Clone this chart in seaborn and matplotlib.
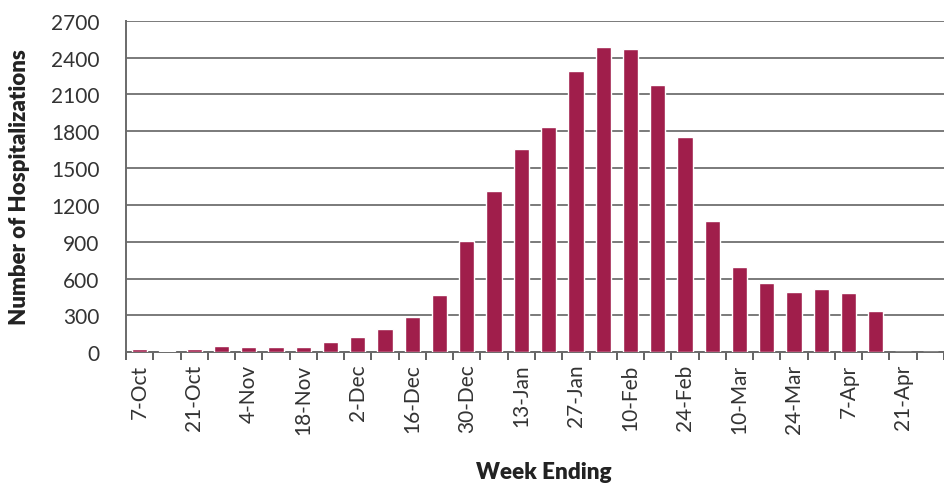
import matplotlib
matplotlib.use("Agg")
import matplotlib.pyplot as plt
import seaborn as sns
import pandas as pd
import numpy as np

# Weekly hospitalizations, week ending
weeks = ["7-Oct", "14-Oct", "21-Oct", "28-Oct", "4-Nov", "11-Nov", "18-Nov",
         "25-Nov", "2-Dec", "9-Dec", "16-Dec", "23-Dec", "30-Dec", "6-Jan",
         "13-Jan", "20-Jan", "27-Jan", "3-Feb", "10-Feb", "17-Feb", "24-Feb",
         "3-Mar", "10-Mar", "17-Mar", "24-Mar", "31-Mar", "7-Apr", "14-Apr",
         "21-Apr", "28-Apr"]
hospitalizations = [25, 12, 25, 55, 40, 40, 40, 80, 127, 190, 290, 469,
                    904, 1310, 1655, 1837, 2293, 2483, 2469, 2176, 1750,
                    1066, 697, 564, 493, 515, 480, 334, 0, 0]
yticks = [0, 300, 600, 900, 1200, 1500, 1800, 2100, 2400, 2700]

df = pd.DataFrame({"week": weeks, "count": hospitalizations})

sns.set_theme(style="white")
plt.rcParams["font.family"] = ["Lato", "DejaVu Sans"]

fig = plt.figure(figsize=(9.44, 4.85), dpi=100)
ax = fig.add_axes([0.1335, 0.2715, 0.8665, 0.6838])

bar_color = "#A01E4B"
sns.barplot(data=df, x="week", y="count", color=bar_color, width=0.56,
            saturation=1, ax=ax, zorder=3)

# y axis
ax.set_ylim(0, 2700)
ax.set_yticks(yticks)
ax.set_yticklabels([str(v) for v in yticks], fontsize=15, color="#333333")
ax.yaxis.grid(True, color="#7a7a7a", linewidth=1.4, zorder=0)
ax.tick_params(axis="y", length=0, pad=19)

# x axis: labels every other week, tick marks at week boundaries
n = len(weeks)
ax.set_xlim(-0.5, 28.95)
ax.set_xticks(np.arange(0, n, 2))
ax.set_xticklabels(weeks[::2], rotation=90, fontsize=15, color="#333333")
ax.set_xticks(np.arange(-0.5, n, 1), minor=True)
ax.tick_params(axis="x", which="major", length=0, pad=8)
ax.tick_params(axis="x", which="minor", length=6, width=1.3,
               color="#555555", direction="out", bottom=True)

for side in ["top", "right"]:
    ax.spines[side].set_visible(False)
for side in ["left", "bottom"]:
    ax.spines[side].set_color("#6a6a6a")
    ax.spines[side].set_linewidth(1.4)

ax.set_ylabel("Number of Hospitalizations", fontsize=16, fontweight="heavy",
              color="#222222")
ax.yaxis.set_label_coords(-0.117, 0.5)
ax.set_xlabel("Week Ending", fontsize=16.2, fontweight="heavy",
              color="#222222")
ax.xaxis.set_label_coords(0.5105, -0.328)

fig.savefig("out.png", dpi=100)
